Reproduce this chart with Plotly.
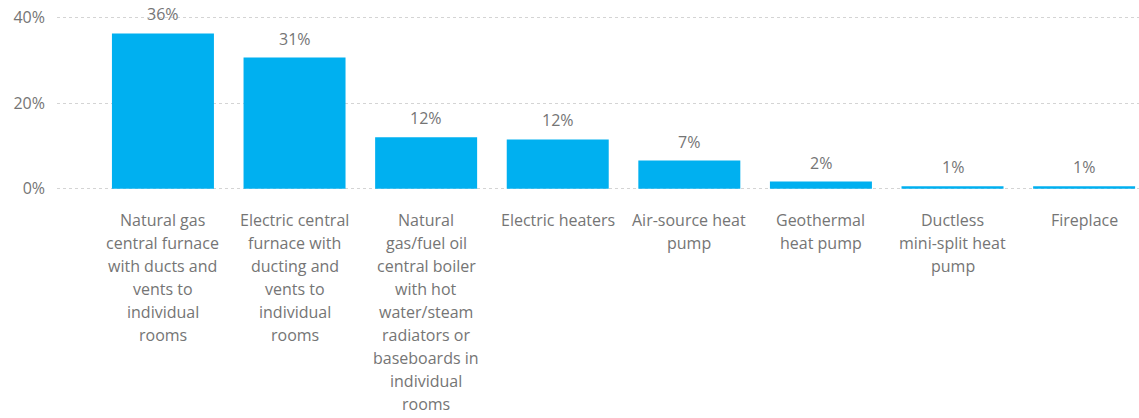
import plotly.graph_objects as go

# Share of homes by primary heating system (%)
categories = [
    "Natural gas central furnace with ducts and vents to individual rooms",
    "Electric central furnace with ducting and vents to individual rooms",
    "Natural gas/fuel oil central boiler with hot water/steam radiators or baseboards in individual rooms",
    "Electric heaters",
    "Air-source heat pump",
    "Geothermal heat pump",
    "Ductless mini-split heat pump",
    "Fireplace",
]
# wrapped lines of each category label
category_lines = [
    ["Natural gas", "central furnace", "with ducts and", "vents to", "individual", "rooms"],
    ["Electric central", "furnace with", "ducting and", "vents to", "individual", "rooms"],
    ["Natural", "gas/fuel oil", "central boiler", "with hot", "water/steam", "radiators or",
     "baseboards in", "individual", "rooms"],
    ["Electric heaters"],
    ["Air-source heat", "pump"],
    ["Geothermal", "heat pump"],
    ["Ductless", "mini-split heat", "pump"],
    ["Fireplace"],
]
shares = [36.2, 30.6, 12.0, 11.5, 6.6, 1.7, 0.6, 0.6]
y_ticks = [0, 20, 40]
y_tick_labels = ["0%", "20%", "40%"]

BAR = "#00B0F0"
TXT = "#757575"
FONT = "Segoe UI, Open Sans, sans-serif"

x = list(range(len(categories)))

fig = go.Figure(
    go.Bar(
        x=x,
        y=shares,
        marker=dict(color=BAR, line=dict(width=0)),
        hovertext=categories,
        hoverinfo="text+y",
    )
)

annotations = []
# value labels above bars
for i, v in zip(x, shares):
    annotations.append(dict(
        x=i, y=v, xref="x", yref="y",
        text=f"{v:.0f}%", showarrow=False,
        yanchor="middle", yshift=19,
        font=dict(family=FONT, size=16, color=TXT),
    ))
# category labels, one line per annotation for Power BI-like line spacing
for i, lines in zip(x, category_lines):
    for k, line in enumerate(lines):
        annotations.append(dict(
            x=i, y=0, xref="x", yref="y",
            text=line, showarrow=False,
            yanchor="middle", yshift=-31 - 23 * k,
            font=dict(family=FONT, size=16, color=TXT),
        ))

fig.update_layout(
    width=1139, height=418,
    margin=dict(l=57, r=0, t=15, b=227),
    paper_bgcolor="white",
    plot_bgcolor="white",
    bargap=0.225,
    showlegend=False,
    annotations=annotations,
    font=dict(family=FONT, color=TXT),
)
fig.update_xaxes(
    range=[-0.805, 7.417],
    showticklabels=False,
    showgrid=False, zeroline=False, showline=False,
)
fig.update_yaxes(
    range=[-0.5, 40.5],
    tickvals=y_ticks, ticktext=y_tick_labels,
    tickfont=dict(family=FONT, size=16, color=TXT),
    showgrid=True, gridcolor="#d4d4d4", gridwidth=1, griddash="dot",
    zeroline=False, showline=False,
    ticks="", ticklabelstandoff=11,
)

fig.write_html("out.html")
